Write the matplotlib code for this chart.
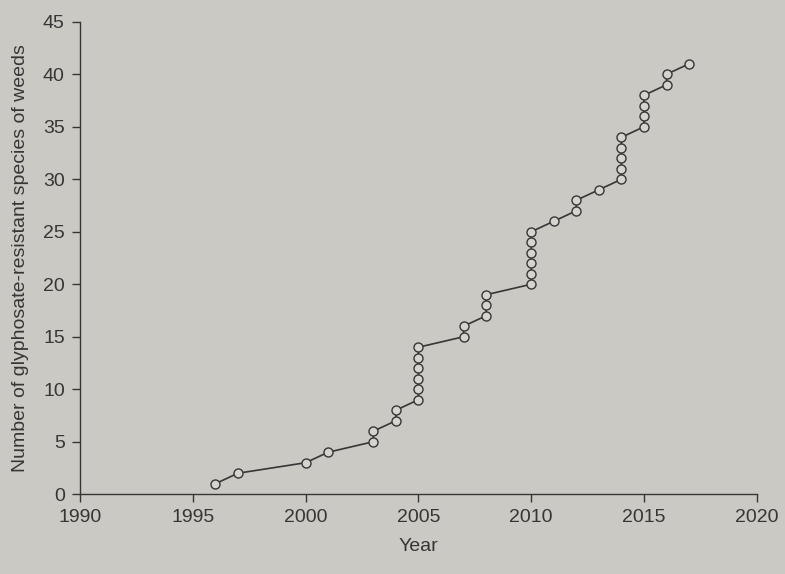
import matplotlib
matplotlib.use("Agg")
import matplotlib.pyplot as plt

# Year of each recorded species (one circle per species)
years = [1996, 1997, 2000, 2001,
         2003, 2003,
         2004, 2004,
         2005, 2005, 2005, 2005, 2005, 2005,
         2007, 2007,
         2008, 2008, 2008,
         2010, 2010, 2010, 2010, 2010, 2010,
         2011,
         2012, 2012,
         2013,
         2014, 2014, 2014, 2014, 2014,
         2015, 2015, 2015, 2015,
         2016, 2016,
         2017]
# Cumulative number of glyphosate-resistant weed species
counts = [1, 2, 3, 4,
          5, 6,
          7, 8,
          9, 10, 11, 12, 13, 14,
          15, 16,
          17, 18, 19,
          20, 21, 22, 23, 24, 25,
          26,
          27, 28,
          29,
          30, 31, 32, 33, 34,
          35, 36, 37, 38,
          39, 40,
          41]

x_ticks = [1990, 1995, 2000, 2005, 2010, 2015, 2020]
y_ticks = [0, 5, 10, 15, 20, 25, 30, 35, 40, 45]

bg = "#cbc9c3"
ink = "#363636"

plt.rcParams["font.family"] = ["Liberation Sans", "DejaVu Sans"]

fig = plt.figure(figsize=(7.85, 5.74), dpi=100, facecolor=bg)
ax = fig.add_axes([0.102, 0.139, 0.862, 0.823])
ax.set_facecolor(bg)

ax.plot(years, counts, color=ink, linewidth=1.2, marker="o", markersize=6.5,
        markerfacecolor="#d6d4cf", markeredgecolor=ink, markeredgewidth=1.0)

ax.set_xlim(1990, 2020)
ax.set_ylim(0, 45)
ax.set_xticks(x_ticks)
ax.set_yticks(y_ticks)

for s in ["top", "right"]:
    ax.spines[s].set_visible(False)
for s in ["left", "bottom"]:
    ax.spines[s].set_color(ink)
    ax.spines[s].set_linewidth(1.0)

ax.tick_params(axis="both", direction="out", length=6, width=1.0, colors=ink,
               labelsize=14, labelcolor=ink)
ax.tick_params(axis="x", pad=5)
ax.tick_params(axis="y", pad=5)

ax.set_xlabel("Year", fontsize=14, color=ink, labelpad=8)
ax.set_ylabel("Number of glyphosate-resistant species of weeds", fontsize=14,
              color=ink, labelpad=10)

fig.savefig("out.png", dpi=100, facecolor=bg)
